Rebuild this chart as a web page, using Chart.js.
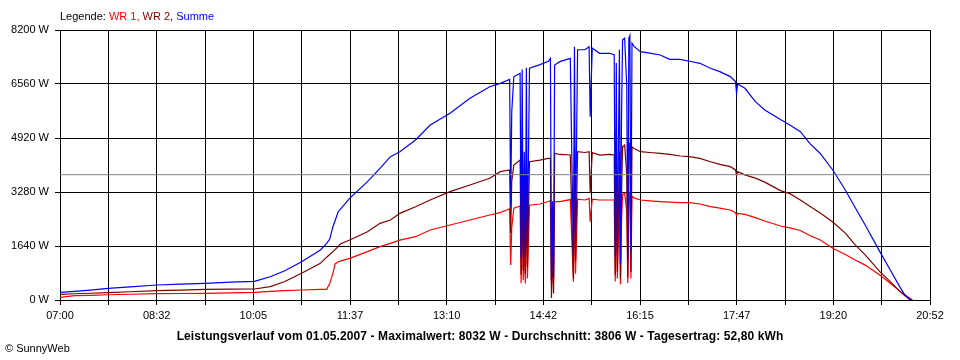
<!DOCTYPE html>
<html>
<head>
<meta charset="utf-8">
<script src="https://cdn.jsdelivr.net/npm/chart.js@4/dist/chart.umd.min.js"></script>
<style>
  body { margin: 0; background: #fff; }
  .wrap { position: relative; width: 960px; height: 360px; font-family: "Liberation Sans", Arial, sans-serif; font-size: 11px; }
  #chart { position: absolute; left: 0; top: 0; }
  .legend { position: absolute; left: 60px; top: 10px; color: #000; }
  .footer { position: absolute; left: 0; width: 960px; top: 329px; text-align: center; font-weight: bold; font-size: 12px; letter-spacing: 0.1px; color: #000; }
  .copy { position: absolute; left: 5px; top: 342px; color: #000; }
</style>
</head>
<body>
<div class="wrap">
  <canvas id="chart" width="960" height="360"></canvas>
  <div class="legend">Legende: <span style="color:#ff0000">WR 1,</span> <span style="color:#800000">WR 2,</span> <span style="color:#0000ff">Summe</span></div>
  <div class="footer">Leistungsverlauf vom 01.05.2007 - Maximalwert: 8032 W - Durchschnitt: 3806 W - Tagesertrag: 52,80 kWh</div>
  <div class="copy">&copy; SunnyWeb</div>
</div>
<script>
// time of each reading (clock time)
const times = [
  '07:00','07:14','07:29','07:46','08:07','08:33','08:55','09:19','09:43','10:06',
  '10:21','10:35','10:51','11:09','11:15','11:18','11:21','11:23','11:26','11:28',
  '11:37','11:54','12:06','12:16','12:25','12:40','12:54','13:13','13:32','13:51',
  '14:01','14:10','14:11','14:12','14:14','14:20','14:21','14:22','14:23','14:24',
  '14:25','14:26','14:27','14:29','14:39','14:47','14:49','14:50','14:51','14:52',
  '14:53','14:58','15:08','15:11','15:12','15:13','15:15','15:22','15:26','15:27',
  '15:29','15:36','15:46','15:50','15:51','15:52','15:53','15:55','15:56','15:57',
  '15:58','16:00','16:02','16:03','16:04','16:05','16:06','16:07','16:09','16:15',
  '16:24','16:34','16:43','16:53','17:02','17:12','17:22','17:31','17:41','17:46',
  '17:47','17:48','17:55','18:05','18:14','18:29','18:38','18:48','18:57','19:07',
  '19:19','19:31','19:40','19:50','20:04','20:14','20:23','20:28','20:33','20:35'
]

// WR 1 (W)
const wr1 = [
  81, 130, 140, 160, 175, 191, 198, 203, 215, 234,
  260, 283, 304, 324, 324, 506, 810, 1093, 1163, 1180,
  1265, 1468, 1620, 1721, 1820, 1923, 2126, 2278, 2430, 2581,
  2652, 2770, 1063, 2200, 2790, 2855, 507, 2870, 600, 1800,
  500, 2880, 650, 2880, 2916, 2990, 3017, 455, 1200, 520,
  2986, 2986, 3050, 556, 3088, 800, 3060, 3037, 3088, 2378,
  3060, 3037, 3037, 3037, 560, 2950, 650, 3100, 480, 2400,
  3200, 3240, 2700, 520, 3240, 3260, 650, 3150, 3100, 3037,
  3010, 2986, 2970, 2955, 2955, 2916, 2834, 2790, 2733, 2650,
  2560, 2632, 2600, 2500, 2400, 2247, 2190, 2110, 1960, 1820,
  1569, 1380, 1220, 1060, 760, 506, 270, 150, 51, 0
]

// WR 2 (W)
const wr2 = [
  172, 190, 205, 223, 250, 283, 300, 324, 330, 334,
  405, 560, 810, 1114, 1300, 1380, 1470, 1530, 1620, 1700,
  1822, 2075, 2328, 2430, 2632, 2834, 3037, 3290, 3493, 3696,
  3897, 3950, 2034, 3600, 4100, 4250, 770, 4200, 900, 2700,
  800, 4250, 1000, 4200, 4250, 4302, 4302, 60, 1700, 200,
  4454, 4420, 4403, 650, 4555, 1200, 4504, 4480, 4504, 3240,
  4480, 4403, 4420, 4403, 750, 4250, 850, 4500, 620, 3200,
  4650, 4707, 3800, 680, 4707, 4770, 850, 4650, 4600, 4504,
  4480, 4454, 4420, 4373, 4352, 4302, 4200, 4120, 4049, 3950,
  3780, 3897, 3800, 3700, 3580, 3321, 3230, 3037, 2850, 2640,
  2370, 2030, 1690, 1370, 860, 560, 270, 130, 20, 0
]

// Summe (W)
const summe = [
  230, 260, 300, 355, 400, 455, 480, 505, 540, 567,
  707, 890, 1163, 1518, 1720, 1850, 2226, 2400, 2682, 2750,
  3088, 3593, 4000, 4352, 4504, 4859, 5315, 5670, 6126, 6478,
  6580, 6700, 2834, 5700, 6780, 6885, 1275, 7000, 1400, 4500,
  1300, 7050, 1600, 7037, 7150, 7250, 7340, 607, 3000, 700,
  7137, 7239, 7340, 1350, 7694, 2000, 7600, 7600, 7694, 5567,
  7650, 7492, 7492, 7441, 1300, 7200, 1500, 7600, 1100, 5600,
  7900, 7950, 6500, 1200, 7950, 8032, 1500, 7800, 7700, 7542,
  7500, 7441, 7309, 7309, 7250, 7188, 7037, 6935, 6784, 6632,
  6278, 6560, 6430, 6025, 5771, 5480, 5315, 5112, 4758, 4450,
  3948, 3341, 2834, 2278, 1468, 911, 405, 150, 0, 0
]

const average = 3806
const xTickLabels = ['07:00','08:32','10:05','11:37','13:10','14:42','16:15','17:47','19:20','20:52']
const yTicks = [0, 1640, 3280, 4920, 6560, 8200]

function toMin(t) {
  const p = t.split(':')
  return (parseInt(p[0]) - 7) * 60 + parseInt(p[1])
}

const dayEnd = toMin(xTickLabels[xTickLabels.length - 1])
const gridCount = (xTickLabels.length - 1) * 2

function series(values) {
  return values.map((v, i) => ({ x: toMin(times[i]), y: v }))
}

function lineSet(label, values, color) {
  return {
    label: label,
    data: series(values),
    borderColor: color,
    borderWidth: 1.2,
    pointRadius: 0,
    tension: 0,
    fill: false
  }
}

new Chart(document.getElementById('chart'), {
  type: 'line',
  data: {
    datasets: [
      {
        label: 'Durchschnitt',
        data: [{ x: 0, y: average }, { x: dayEnd, y: average }],
        borderColor: '#808080',
        borderWidth: 1,
        pointRadius: 0
      },
      lineSet('Summe', summe, '#0000ff'),
      lineSet('WR 2', wr2, '#800000'),
      lineSet('WR 1', wr1, '#ff0000')
    ]
  },
  options: {
    responsive: false,
    animation: false,
    layout: { padding: { top: 30, right: 30, left: 0, bottom: 0 } },
    plugins: {
      legend: { display: false },
      tooltip: { enabled: false }
    },
    scales: {
      x: {
        type: 'linear',
        min: 0,
        max: dayEnd,
        z: 1,
        afterBuildTicks: function (scale) {
          const ticks = []
          for (let i = 0; i <= gridCount; i++) ticks.push({ value: i * dayEnd / gridCount })
          scale.ticks = ticks
        },
        afterFit: function (scale) { scale.height = 60 },
        grid: { color: '#000', lineWidth: 1, tickLength: 5, drawTicks: true },
        border: { color: '#000' },
        ticks: {
          autoSkip: false,
          maxRotation: 0,
          padding: 4,
          color: '#000',
          font: { family: 'Liberation Sans', size: 11 },
          callback: function (v, i) { return i % 2 === 0 ? xTickLabels[i / 2] : '' }
        }
      },
      y: {
        min: 0,
        max: 8200,
        z: 1,
        afterBuildTicks: function (scale) {
          scale.ticks = yTicks.map(v => ({ value: v }))
        },
        afterFit: function (scale) { scale.width = 60 },
        grid: { color: '#000', lineWidth: 1, tickLength: 5 },
        border: { color: '#000' },
        ticks: {
          padding: 6,
          color: '#000',
          font: { family: 'Liberation Sans', size: 11 },
          callback: function (v) { return v + ' W' }
        }
      }
    }
  }
})
</script>
</body>
</html>
